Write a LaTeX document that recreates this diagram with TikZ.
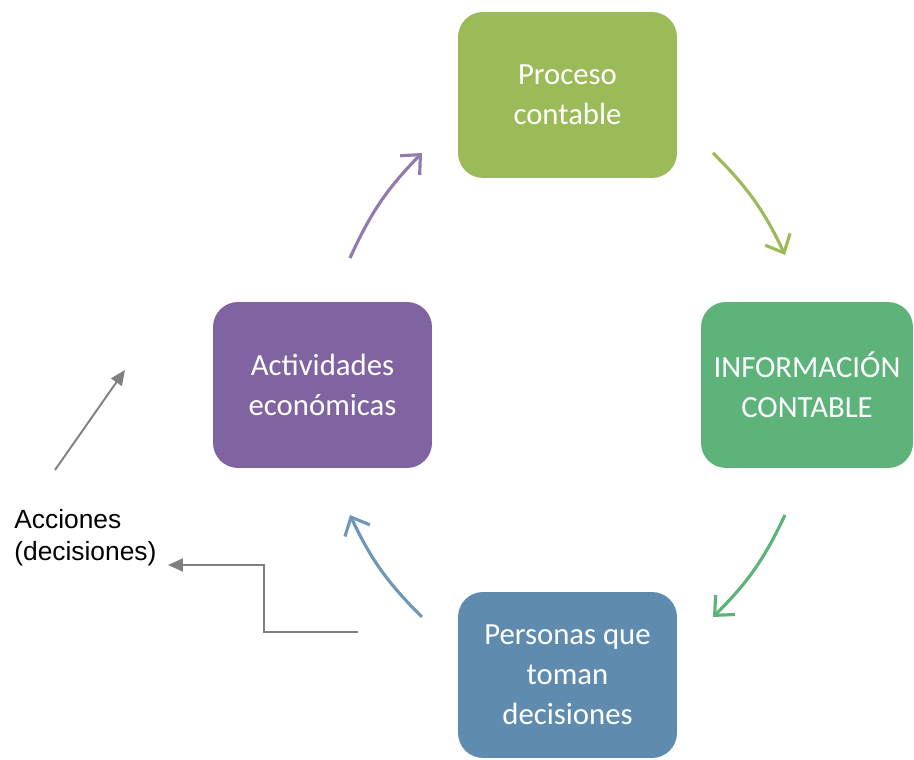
\documentclass[tikz,border=0pt]{standalone}
\usepackage{fontspec}
\setmainfont{Carlito}
\newfontfamily\labelfont{Liberation Sans}
\usetikzlibrary{arrows.meta}
\definecolor{cProceso}{HTML}{9BBB59}
\definecolor{cInfo}{HTML}{5DB37A}
\definecolor{cActiv}{HTML}{8064A2}
\definecolor{cPersonas}{HTML}{5F8CAE}
\definecolor{cGray}{HTML}{808080}

\begin{document}
\begin{tikzpicture}[
    x=0.02cm, y=0.02cm,
    font=\fontsize{17.5}{22.8}\selectfont,
    every node/.style={align=center},
    cyclebox/.style={rounded corners=0.5cm, text=white, minimum width=4.38cm,
      minimum height=3.32cm, inner sep=2pt},
    cyclearrow/.style={line width=1.8pt, bend left=10,
      -{Straight Barb[length=3mm,width=5.5mm]}},
    grayarrow/.style={cGray, line width=1.1pt, -{Triangle[length=3mm,width=2.6mm]}},
]
\useasboundingbox (0,0) rectangle (914,760);

% ---- cycle boxes ----
\node[cyclebox, fill=cProceso] (proc) at (567.5,665) {Proceso\\contable};
\node[cyclebox, fill=cInfo, minimum width=4.24cm] (info) at (807,375)
      {INFORMACIÓN\\CONTABLE};
\node[cyclebox, fill=cActiv] (act) at (322.5,375) {Actividades\\económicas};
\node[cyclebox, fill=cPersonas] (pers) at (567.5,85) {Personas que\\toman\\decisiones};

% ---- side label ----
\node[font=\labelfont\fontsize{15}{18}\selectfont, align=left, anchor=west,
      inner sep=0pt] (acc) at (14,222) {Acciones\\(decisiones)};

% ---- arrow end points ----
\coordinate (actOut) at (350,502);
\coordinate (procIn) at (422,607);
\coordinate (procOut) at (713,607);
\coordinate (infoIn) at (785,505);
\coordinate (infoOut) at (785,245);
\coordinate (persIn) at (713,143);
\coordinate (persOut) at (422,143);
\coordinate (actIn) at (350,245);
\coordinate (accUp) at (55,290);
\coordinate (accTip) at (125,390);
\coordinate (fbOut) at (358,128);
\coordinate (fbIn) at (168,195);

% ---- cycle arrows ----
\draw[cyclearrow, cActiv!85] (actOut) to (procIn);
\draw[cyclearrow, cProceso] (procOut) to (infoIn);
\draw[cyclearrow, cInfo] (infoOut) to (persIn);
\draw[cyclearrow, cPersonas!90] (persOut) to (actIn);

% ---- actions / feedback ----
\draw[grayarrow] (accUp) -- (accTip);
\draw[grayarrow] (fbOut) -| ++(-94,67) -- (fbIn);

\end{tikzpicture}
\end{document}
